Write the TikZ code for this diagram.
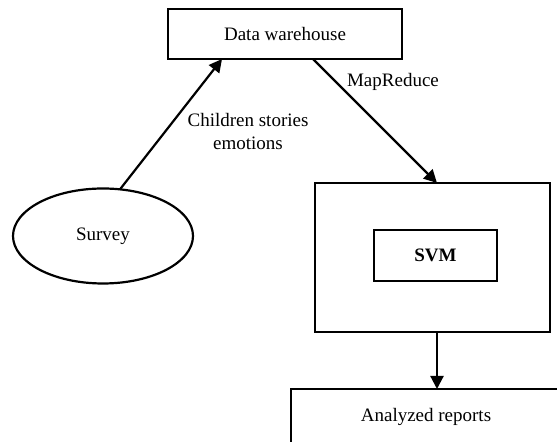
\documentclass[tikz,border=0pt]{standalone}
\usepackage{fontspec}
\setmainfont{Liberation Serif}
\usetikzlibrary{shapes.geometric, arrows.meta, positioning, calc}

\begin{document}
\begin{tikzpicture}[
    x=0.5pt, y=-0.5pt,
    font=\fontsize{9.5}{11.5}\selectfont,
    box/.style={rectangle, draw, line width=1.1pt, inner sep=0pt, outer sep=0pt, align=center},
    oval/.style={ellipse, draw, line width=1.1pt, inner sep=0pt, outer sep=0pt, minimum width=90pt, minimum height=47.5pt},
    arrow/.style={-{Triangle[length=6.5pt, width=6.5pt]}, line width=1.1pt}
  ]
    \useasboundingbox (0,0) rectangle (557,442);
    \clip (0,0) rectangle (557,442);

    % Sources
    \node[box, minimum width=117pt, minimum height=25pt] (warehouse) at (285,34) {Data warehouse};
    \node[oval] (survey) at (103,236) {Survey};

    % Processing
    \node[box, minimum width=117.5pt, minimum height=74.5pt] (proc) at (432.5,257.5) {};
    \node[box, minimum width=61.5pt, minimum height=25.5pt, font=\fontsize{9.5}{11.5}\selectfont\bfseries] (svm) at (435.5,255.5) {SVM};

    % Output
    \node[box, minimum width=135pt, minimum height=28pt] (report) at (426,417) {Analyzed reports};

    % Arrows
    \draw[arrow] (survey.70) -- ($(warehouse.south)+(-63,0)$);
    \draw[arrow] ($(warehouse.south)+(28,0)$) -- ($(proc.north)+(4.5,0)$);
    \draw[arrow] ($(proc.south)+(4.5,0)$) -- ($(report.north)+(11,0)$);

    % Labels
    \node[align=center] (lbl_data) at (248,132) {Children stories\\emotions};
    \node (lbl_mr) at (393,82) {MapReduce};
  \end{tikzpicture}
\end{document}
